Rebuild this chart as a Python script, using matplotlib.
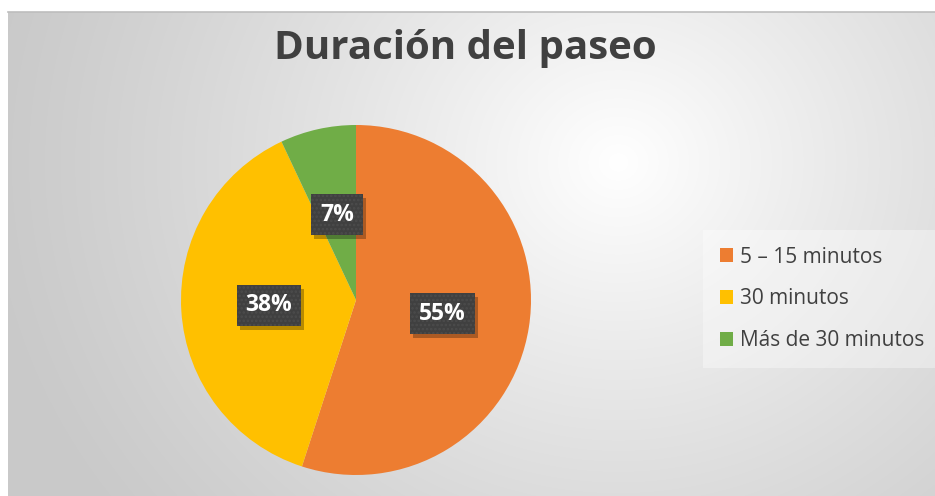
import matplotlib
matplotlib.use("Agg")
import matplotlib.pyplot as plt
from matplotlib.patches import Rectangle
from matplotlib.transforms import IdentityTransform
import numpy as np

categories = ["5 – 15 minutos", "30 minutos", "Más de 30 minutos"]
values = [55, 38, 7]
colors = ["#ED7D31", "#FFC000", "#70AD47"]
title = "Duración del paseo"

plt.rcParams["hatch.linewidth"] = 1.2

W, H = 935, 496
fig = plt.figure(figsize=(W / 100, H / 100), dpi=100)
fig.patch.set_facecolor("white")

# chart area with radial gradient (white centre, grey edges)
bg = fig.add_axes([8 / W, 0, (W - 8) / W, (H - 12) / H])
bg.set_axis_off()
yy, xx = np.mgrid[0:H - 12, 0:W - 8]
cx, cy = 610, 150
d = np.hypot(xx - cx, (yy - cy) * 1.1) / 640
d = np.clip(d, 0, 1)
lo, hi = 1.0, 0.79
grey = hi + (lo - hi) * (1 - d) ** 1.2
img = np.dstack([grey, grey, grey])
bg.imshow(img, aspect="auto", extent=(0, 1, 0, 1), origin="upper")
bg.set_xlim(0, 1)
bg.set_ylim(0, 1)
fig.add_artist(plt.Line2D([8 / W, 1], [(H - 12) / H] * 2, color="#bdbdbd", lw=1.2))

# pie
cxp, cyp, r = 356, 300, 175
ax = fig.add_axes([(cxp - r) / W, (H - cyp - r) / H, 2 * r / W, 2 * r / H])
wedges, texts = ax.pie(values, colors=colors, startangle=90, counterclock=False,
                       wedgeprops=dict(linewidth=0))
ax.set_xlim(-1, 1)
ax.set_ylim(-1, 1)
ax.set_axis_off()

labels = []
total = sum(values)
start = 90.0
for w, v in zip(wedges, values):
    mid = np.deg2rad(start - 360 * v / total / 2)
    start -= 360 * v / total
    t = ax.text(0.5 * np.cos(mid), 0.5 * np.sin(mid), f"{v}%", ha="center", va="center",
                fontsize=16.5, fontweight="bold", family="Open Sans", color="white", zorder=6,
                bbox=dict(boxstyle="square,pad=0.38", facecolor="#404040",
                          edgecolor="#4c4c4c", linewidth=0, hatch="...."))
    labels.append(t)

# soft shadow under each label box
fig.canvas.draw()
for t in labels:
    ext = t.get_bbox_patch().get_window_extent()
    sh = Rectangle((ext.x0 + 3, ext.y0 - 4), ext.width, ext.height,
                   transform=IdentityTransform(), facecolor="black", alpha=0.28,
                   linewidth=0, zorder=4)
    ax.add_artist(sh)
    sh.set_clip_on(False)

fig.text(465 / W, 1 - 48 / H, title, ha="center", va="center", fontsize=29,
         fontweight="bold", color="#404040", family="Open Sans")

leg = fig.legend(wedges, categories, loc="center left",
                 bbox_to_anchor=(703 / W, 1 - 299 / H), frameon=True, fancybox=False,
                 prop=dict(family="Open Sans", size=15), labelcolor="#404040",
                 handlelength=0.65, handleheight=0.65, handletextpad=0.35,
                 labelspacing=1.0, borderpad=0.8, borderaxespad=0)
leg.get_frame().set_facecolor("white")
leg.get_frame().set_alpha(0.35)
leg.get_frame().set_linewidth(0)

fig.savefig("out.png", dpi=100)
